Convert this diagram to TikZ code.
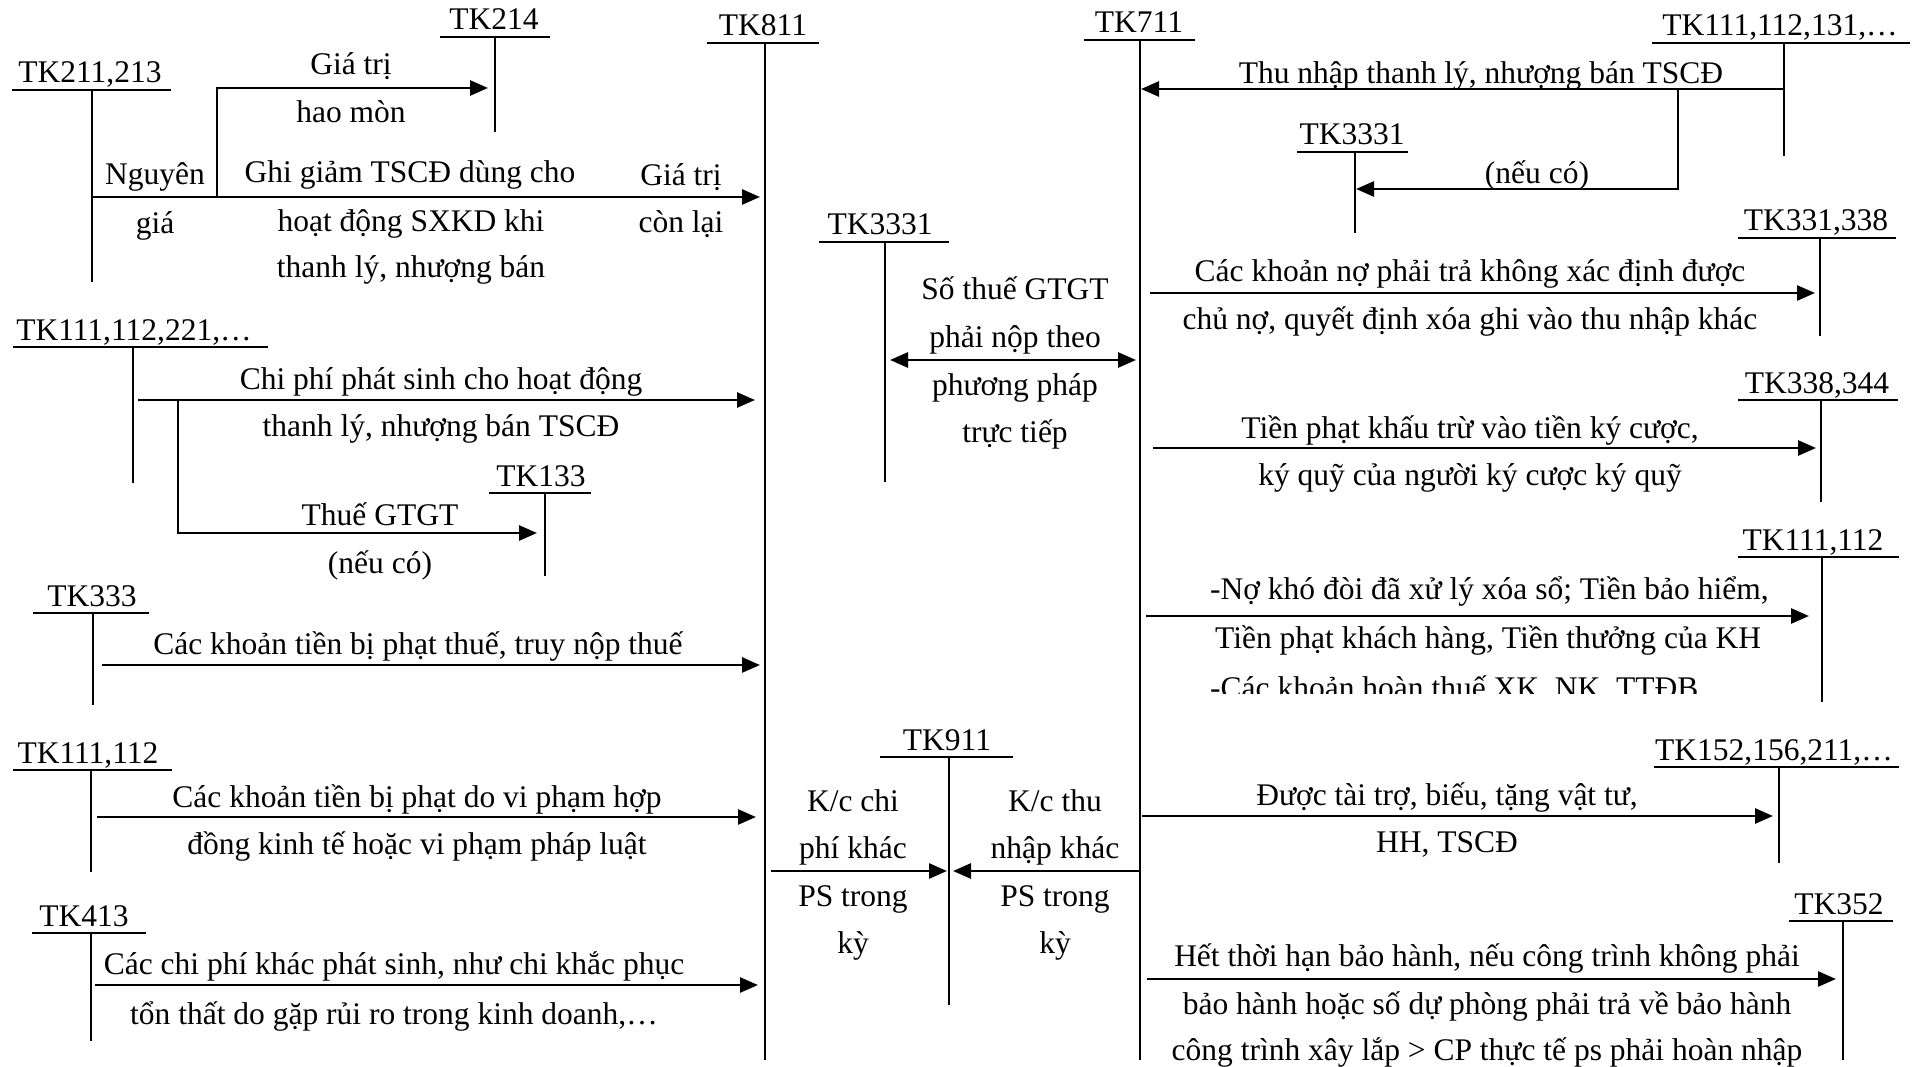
\documentclass[tikz,border=0pt]{standalone}
\usepackage{fontspec}
\setmainfont{Liberation Serif}
\usetikzlibrary{arrows.meta}
\newcommand{\fs}{\fontsize{31.5pt}{38pt}\selectfont}
% name, label, label centre x, bar y, bar x1, bar x2, vertical x, vertical bottom
\newcommand{\tkacc}[8]{%
  \node[lbl] (#1) at (#3,#4-7) {#2};
  \draw[acc] (#5,#4) -- (#6,#4);
  \draw[acc] (#7,#4) coordinate (#1-top) -- (#7,#8) coordinate (#1-bot);
}
\begin{document}
\begin{tikzpicture}[x=1pt,y=-1pt,
  acc/.style={line width=2pt},
  conn/.style={line width=2.7pt,-{Triangle[length=18pt,width=15pt]}},
  dconn/.style={line width=2.7pt,{Triangle[length=18pt,width=15pt]}-{Triangle[length=18pt,width=15pt]}},
  lbl/.style={anchor=base,inner sep=0pt,font=\fs},
  txt/.style={anchor=base,inner sep=0pt,font=\fs},
  ltxt/.style={anchor=base west,inner sep=0pt,font=\fs}]
\useasboundingbox[fill=white] (0,0) rectangle (1919,1067);

% ---------- accounts ----------
\tkacc{a211}{TK211,213}{90}{90}{12}{171}{92}{282}
\tkacc{a214}{TK214}{494}{37}{440}{550}{495}{132}
\tkacc{a811}{TK811}{763}{43}{707}{819}{765}{1060}
\tkacc{a711}{TK711}{1139}{40}{1084}{1195}{1140}{1060}
\tkacc{a111r}{TK111,112,131,…}{1780}{43}{1652}{1910}{1784}{156}
\tkacc{a3331u}{TK3331}{1352}{152}{1297}{1408}{1355}{233}
\tkacc{a3331m}{TK3331}{880}{242}{819}{949}{885}{482}
\tkacc{a331}{TK331,338}{1816}{238}{1738}{1896}{1820}{336}
\tkacc{a338}{TK338,344}{1817}{400}{1738}{1898}{1821}{502}
\tkacc{a111l}{TK111,112,221,…}{134}{347}{13}{268}{133}{483}
\tkacc{a133}{TK133}{541}{493}{489}{591}{545}{576}
\tkacc{a333}{TK333}{92}{613}{33}{149}{93}{705}
\tkacc{a1112l}{TK111,112}{88}{770}{13}{172}{91}{872}
\tkacc{a413}{TK413}{84}{933}{32}{146}{91}{1041}
\tkacc{a911}{TK911}{947}{757}{880}{1013}{949}{1005}
\tkacc{a1112r}{TK111,112}{1813}{557}{1738}{1899}{1822}{702}
\tkacc{a152}{TK152,156,211,…}{1774}{767}{1654}{1899}{1779}{863}
\tkacc{a352}{TK352}{1839}{921}{1789}{1893}{1843}{1060}

% ---------- connector end points ----------
\coordinate (p1s) at (92,197);   \coordinate (p1e) at (760,197);
\coordinate (p1b) at (217,197);  \coordinate (p1c) at (217,88);  \coordinate (p1t) at (488,88);
\coordinate (p2s) at (1784,89);  \coordinate (p2e) at (1141,89);
\coordinate (p2b) at (1678,89);  \coordinate (p2c) at (1678,189); \coordinate (p2t) at (1356,189);
\coordinate (p3s) at (890,360);  \coordinate (p3e) at (1136,360);
\coordinate (p4s) at (1150,293); \coordinate (p4e) at (1815,293);
\coordinate (p5s) at (1153,448); \coordinate (p5e) at (1816,448);
\coordinate (p6s) at (138,400);  \coordinate (p6e) at (755,400);
\coordinate (p6b) at (178,400);  \coordinate (p6c) at (178,533); \coordinate (p6t) at (537,533);
\coordinate (p7s) at (102,665);  \coordinate (p7e) at (760,665);
\coordinate (p8s) at (97,817);   \coordinate (p8e) at (756,817);
\coordinate (p9s) at (95,985);   \coordinate (p9e) at (758,985);
\coordinate (p10s) at (771,871); \coordinate (p10e) at (947,871);
\coordinate (p11s) at (1140,871);\coordinate (p11e) at (953,871);
\coordinate (p12s) at (1146,616);\coordinate (p12e) at (1809,616);
\coordinate (p13s) at (1142,816);\coordinate (p13e) at (1773,816);
\coordinate (p14s) at (1147,979);\coordinate (p14e) at (1836,979);

% ---------- connectors ----------
\draw[conn] (p1s) -- (p1e);
\draw[conn] (p1b) -- (p1c) -- (p1t);
\draw[conn] (p2s) -- (p2e);
\draw[conn] (p2b) -- (p2c) -- (p2t);
\draw[dconn] (p3s) -- (p3e);
\draw[conn] (p4s) -- (p4e);
\draw[conn] (p5s) -- (p5e);
\draw[conn] (p6s) -- (p6e);
\draw[conn] (p6b) -- (p6c) -- (p6t);
\draw[conn] (p7s) -- (p7e);
\draw[conn] (p8s) -- (p8e);
\draw[conn] (p9s) -- (p9e);
\draw[conn] (p10s) -- (p10e);
\draw[conn] (p11s) -- (p11e);
\draw[conn] (p12s) -- (p12e);
\draw[conn] (p13s) -- (p13e);
\draw[conn] (p14s) -- (p14e);

% ---------- texts ----------
\node[txt] (t1a) at (351,75) {Giá trị};
\node[txt] (t1b) at (351,123) {hao mòn};
\node[txt] (t2a) at (155,185) {Nguyên};
\node[txt] (t2b) at (155,234) {giá};
\node[txt] (t3a) at (410,183) {Ghi giảm TSCĐ dùng cho};
\node[txt] (t3b) at (411,232) {hoạt động SXKD khi};
\node[txt] (t3c) at (411,278) {thanh lý, nhượng bán};
\node[txt] (t4a) at (681,186) {Giá trị};
\node[txt] (t4b) at (681,233) {còn lại};
\node[txt] (t5) at (1481,84) {Thu nhập thanh lý, nhượng bán TSCĐ};
\node[txt] (t6) at (1537,184) {(nếu có)};
\node[txt] (t7a) at (1015,300) {Số thuế GTGT};
\node[txt] (t7b) at (1015,347) {phải nộp theo};
\node[txt] (t7c) at (1015,395) {phương pháp};
\node[txt] (t7d) at (1015,442) {trực tiếp};
\node[txt] (t8a) at (1470,282) {Các khoản nợ phải trả không xác định được};
\node[txt] (t8b) at (1470,330) {chủ nợ, quyết định xóa ghi vào thu nhập khác};
\node[txt] (t9a) at (1470,438) {Tiền phạt khấu trừ vào tiền ký cược,};
\node[txt] (t9b) at (1470,485) {ký quỹ của người ký cược ký quỹ};
\node[txt] (t10a) at (441,389) {Chi phí phát sinh cho hoạt động};
\node[txt] (t10b) at (441,436) {thanh lý, nhượng bán TSCĐ};
\node[txt] (t11a) at (380,525) {Thuế GTGT};
\node[txt] (t11b) at (380,573) {(nếu có)};
\node[txt] (t12) at (418,654) {Các khoản tiền bị phạt thuế, truy nộp thuế};
\node[txt] (t13a) at (417,807) {Các khoản tiền bị phạt do vi phạm hợp};
\node[txt] (t13b) at (417,854) {đồng kinh tế hoặc vi phạm pháp luật};
\node[txt] (t14a) at (394,974) {Các chi phí khác phát sinh, như chi khắc phục};
\node[txt] (t14b) at (394,1024) {tổn thất do gặp rủi ro trong kinh doanh,…};
\node[txt] (t15a) at (853,811) {K/c chi};
\node[txt] (t15b) at (853,858) {phí khác};
\node[txt] (t15c) at (853,906) {PS trong};
\node[txt] (t15d) at (853,953) {kỳ};
\node[txt] (t16a) at (1055,811) {K/c thu};
\node[txt] (t16b) at (1055,858) {nhập khác};
\node[txt] (t16c) at (1055,906) {PS trong};
\node[txt] (t16d) at (1055,953) {kỳ};
\node[ltxt] (t17a) at (1210,599) {-Nợ khó đòi đã xử lý xóa sổ; Tiền bảo hiểm,};
\node[ltxt] (t17b) at (1215,648) {Tiền phạt khách hàng, Tiền thưởng của KH};
\begin{scope}
  \clip (1150,655) rectangle (1800,693);
  \node[ltxt] (t17c) at (1210,698) {-Các khoản hoàn thuế XK, NK, TTĐB};
\end{scope}
\node[txt] (t18a) at (1447,805) {Được tài trợ, biếu, tặng vật tư,};
\node[txt] (t18b) at (1447,852) {HH, TSCĐ};
\node[txt] (t19a) at (1487,966) {Hết thời hạn bảo hành, nếu công trình không phải};
\node[txt] (t19b) at (1487,1014) {bảo hành hoặc số dự phòng phải trả về bảo hành};
\node[txt] (t19c) at (1487,1060) {công trình xây lắp > CP thực tế ps phải hoàn nhập};
\end{tikzpicture}
\end{document}
